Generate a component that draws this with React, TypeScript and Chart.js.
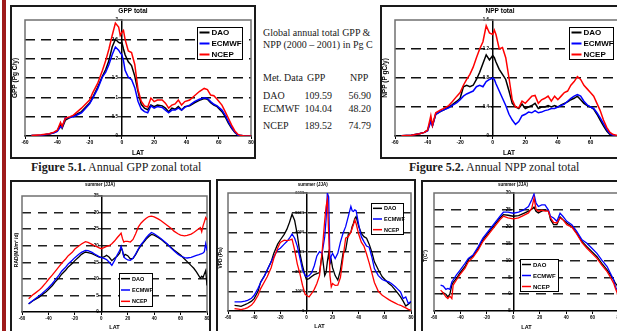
import React, { useEffect, useRef } from "react";
import { Chart, registerables } from "chart.js";
Chart.register(...registerables);

const FONT = "'Liberation Sans', Arial, Helvetica, sans-serif";
const SERIF = "'Liberation Serif', 'Times New Roman', Times, serif";

const seriesNames = ["DAO", "ECMWF", "NCEP"];
const seriesColors = ["#000000", "#0000ff", "#ff0000"];

// ---------- GPP total ----------
const gppLat = [-56,-50,-45,-42,-40,-38,-37,-35,-32,-30,-25,-20,-18,-15,-12,-10,-8,-6,-4,-2,-1,0,1,2,4,6,8,10,12,14,16,18,20,22,25,27,29,31,33,35,37,39,42,45,48,51,53,55,57,59,62,64,66,68,70,72,74,76,78,80];
const gppDao = [0.01,0.02,0.05,0.09,0.13,0.31,0.2,0.41,0.48,0.52,0.63,0.85,1.0,1.26,1.55,1.72,1.95,2.3,2.5,2.42,2.4,2.42,2.25,2.1,1.92,1.82,1.55,1.15,0.82,0.72,0.68,0.8,0.76,0.8,0.78,0.72,0.63,0.72,0.69,0.76,0.67,0.76,0.78,0.86,0.92,0.97,0.95,0.86,0.8,0.76,0.63,0.5,0.33,0.2,0.09,0.02,0.01,0,0,0];
const gppEcmwf = [0.01,0.02,0.05,0.08,0.12,0.24,0.22,0.47,0.48,0.5,0.6,0.83,0.98,1.22,1.53,1.65,1.85,2.1,2.3,2.22,2.15,2.1,1.95,1.7,1.52,1.46,1.25,0.9,0.7,0.63,0.6,0.78,0.72,0.76,0.74,0.67,0.6,0.67,0.67,0.72,0.67,0.74,0.8,0.89,0.95,0.99,0.97,0.89,0.82,0.78,0.67,0.54,0.37,0.22,0.1,0.02,0.01,0,0,0];
const gppNcep = [0.01,0.03,0.06,0.1,0.15,0.35,0.25,0.46,0.5,0.54,0.72,0.93,1.12,1.36,1.7,1.95,2.25,2.6,2.92,2.82,2.6,2.68,2.73,2.5,2.2,2.16,1.85,1.2,0.9,0.78,0.75,0.98,0.89,0.93,0.93,0.85,0.72,0.8,0.83,0.93,0.8,0.89,0.93,1.04,1.15,1.23,1.2,1.06,1.04,0.95,0.8,0.63,0.46,0.28,0.13,0.04,0.01,0,0,0];

// ---------- NPP total ----------
const nppLat = [-56,-50,-45,-42,-40,-38,-37,-35,-32,-30,-27,-25,-22,-20,-18,-16,-14,-12,-10,-8,-6,-4,-2,0,1,2,4,6,8,10,12,14,16,18,20,22,24,26,28,30,32,34,36,38,40,42,44,46,48,50,52,54,56,58,60,62,64,66,68,70,72,74,76,78,80];
const nppDao = [0.005,0.01,0.03,0.05,0.08,0.22,0.14,0.3,0.34,0.36,0.4,0.43,0.48,0.52,0.68,0.7,0.68,0.7,0.78,0.88,1.0,1.12,1.05,1.11,1.08,1.02,0.92,0.85,0.78,0.62,0.45,0.4,0.38,0.44,0.38,0.4,0.42,0.45,0.38,0.4,0.4,0.42,0.4,0.42,0.4,0.43,0.45,0.47,0.5,0.52,0.55,0.5,0.45,0.42,0.4,0.37,0.3,0.22,0.14,0.07,0.02,0.01,0,0,0];
const nppEcmwf = [0.005,0.01,0.03,0.05,0.07,0.2,0.14,0.3,0.34,0.36,0.39,0.42,0.46,0.5,0.55,0.58,0.6,0.62,0.68,0.7,0.68,0.75,0.78,0.8,0.78,0.72,0.62,0.52,0.42,0.3,0.22,0.16,0.2,0.28,0.3,0.33,0.32,0.35,0.32,0.33,0.35,0.36,0.38,0.38,0.4,0.42,0.44,0.48,0.52,0.55,0.57,0.55,0.48,0.43,0.4,0.38,0.32,0.25,0.17,0.09,0.03,0.01,0,0,0];
const nppNcep = [0.005,0.01,0.03,0.05,0.08,0.28,0.15,0.32,0.36,0.38,0.42,0.47,0.55,0.6,0.7,0.78,0.85,0.95,1.08,1.2,1.3,1.52,1.42,1.4,1.46,1.4,1.2,1.22,1.08,0.8,0.5,0.4,0.39,0.48,0.45,0.5,0.55,0.56,0.45,0.5,0.52,0.55,0.48,0.55,0.5,0.55,0.6,0.62,0.7,0.75,0.82,0.78,0.7,0.65,0.6,0.55,0.45,0.35,0.22,0.12,0.05,0.02,0.01,0,0];

// ---------- RAD summer ----------
const radLat = [-55,-52,-50,-47,-45,-42,-40,-37,-35,-32,-30,-27,-25,-22,-20,-17,-15,-12,-10,-7,-5,-2,0,2,4,6,8,10,12,14,15,16,17,18,20,22,24,26,28,30,32,34,36,38,40,43,45,48,50,53,55,58,60,63,65,68,70,72,74,75,76,77,78,79,80];
const radDao = [2.4,3.3,3.8,4.5,5.1,6.0,6.8,8.0,9.0,10.3,11.4,12.6,13.6,14.6,15.5,16.6,17.4,18.1,17.9,17.6,17.2,16.6,16.4,16.6,17.1,16.5,15.5,16.2,16.8,17.8,19.5,18.5,16.8,17.4,17.0,16.0,16.2,17.3,18.8,20.0,21.0,22.0,22.8,23.4,23.2,22.5,22.0,21.0,20.4,19.4,18.7,17.8,17.2,16.0,15.2,14.0,13.2,12.1,10.8,10.2,10.8,10.4,11.5,12.5,8.0];
const radEcmwf = [2.5,3.4,4.0,4.9,5.5,6.6,7.3,8.6,9.6,11.1,12.3,13.5,14.5,15.6,16.4,17.4,18.0,18.6,18.5,18.0,17.5,16.8,16.4,16.2,15.8,15.0,14.1,15.5,17.2,18.6,19.8,18.5,16.8,16.2,15.7,15.6,16.2,17.5,19.0,20.3,21.3,22.4,23.3,24.0,23.6,22.8,22.2,21.2,20.5,19.2,18.5,17.4,16.9,16.4,16.3,16.5,16.8,17.1,17.3,17.5,17.6,17.8,18.2,20.6,18.5];
const radNcep = [4.0,5.1,5.7,6.6,7.4,8.8,9.8,11.2,12.2,13.7,14.7,16.0,17.0,18.0,19.0,19.9,20.5,21.2,21.0,20.4,20.0,19.4,19.1,19.4,19.8,20.0,20.6,21.4,22.4,23.3,23.8,22.2,21.1,21.3,21.3,21.1,21.9,23.6,25.6,26.8,27.6,28.3,28.8,28.9,28.7,28.1,27.6,26.7,26.1,25.2,24.4,23.6,23.2,23.0,23.1,23.5,24.0,24.6,25.2,25.5,24.2,26.0,27.2,28.5,27.8];

// ---------- VPD summer ----------
const vpdLat = [-55,-52,-50,-47,-45,-42,-40,-37,-35,-32,-30,-27,-25,-22,-20,-17,-15,-13,-11,-9,-7,-5,-3,-1,0,2,4,6,8,10,12,14,15,16,17,18,19,20,22,24,26,28,30,32,34,35,36,37,38,40,42,44,46,48,50,52,55,58,60,63,65,68,70,72,74,76,78,80];
const vpdDao = [290,260,240,320,380,500,630,1000,1480,1800,2080,2500,2930,3400,3610,3900,4150,4500,4920,4600,3900,2930,2300,1800,1600,1650,1750,1850,1900,1950,2900,1800,1950,2500,2930,2400,2590,2200,1800,1570,2080,2930,3100,3900,4000,4300,4460,4700,4800,4300,3950,3780,3700,3400,3000,2500,2100,1740,1600,1400,1300,1060,900,715,500,250,350,460];
const vpdEcmwf = [460,460,460,500,545,650,800,1150,1450,1800,2080,2500,2760,3100,3190,3400,3530,3700,3920,3700,3300,2700,2100,1800,1740,1800,1950,2300,2800,3015,2930,3780,4630,6000,5800,2420,2800,2930,2670,2930,3500,3950,4290,4800,5320,5100,5060,5140,5100,4380,3780,3530,3300,3240,2760,2160,1800,1600,1550,1480,1400,1230,1100,970,630,715,375,500];
const vpdNcep = [120,90,70,120,170,300,460,800,1140,1500,1740,2200,2670,3200,3480,3600,3580,3600,3650,3100,2400,1900,1310,850,800,715,890,1100,1400,1800,3000,4600,5300,5660,4000,1800,1230,1400,1300,1310,1700,2700,3700,3780,4000,4210,4400,4630,4450,3900,3500,3300,2900,2450,1950,1450,1000,800,715,580,500,400,330,290,220,160,80,40];

// ---------- T summer ----------
const tLat = [-55,-53,-51,-49.5,-48,-46.5,-45.5,-43,-40.5,-36.5,-34,-30.5,-26.5,-23,-18,-14,-10,-7.5,-4,0,4,7.5,11.5,14,15.7,17.2,19,21.5,24,26.5,28.2,30.5,33,35.4,37.5,40.5,44.3,48,52,55.7,59.5,63.3,67,71,73.5,76,77.3,78.5,79.5,80];
const tDao = [0,0.4,0,-0.8,0,2.7,3.5,4.7,6.2,8.2,10.3,11.3,13.6,16.1,18.6,20.6,22.6,23.6,23.4,23.1,23.3,23.9,24.6,25.2,25.8,24.6,24.1,24.6,24.9,24.9,22.1,20.6,20.6,22.9,22.1,21.1,20.1,18.1,15.6,14.1,12.6,11.1,9.1,7.2,5.7,4.2,3.2,2.7,1.2,0.8];
const tEcmwf = [2.7,2.4,1.4,1.7,1.4,3.6,4.2,5.7,7.0,9.1,10.6,11.6,14.1,16.6,19.1,21.1,23.1,24.3,24.3,24.0,24.3,24.9,26.0,28.0,29.7,27.0,26.0,26.5,26.5,25.0,23.1,22.6,21.6,24.0,23.1,21.6,20.6,18.6,16.1,15.1,13.6,12.1,10.1,8.2,6.2,4.2,2.2,1.2,1.0,1.0];
const tNcep = [1.2,0.4,-0.8,-1.3,-0.6,-1.3,2.7,4.2,5.7,7.7,9.6,10.9,13.1,15.6,18.1,20.1,22.1,23.1,22.6,22.3,22.6,23.3,24.1,25.5,28.5,25.2,24.6,24.9,24.6,24.6,22.6,21.3,21.1,22.6,22.1,20.6,19.9,17.9,15.3,13.6,12.1,10.6,8.6,6.7,5.0,3.2,1.7,0.5,-1.3,-2.5];

// ---------- table ----------
const tableHeader = ["Met. Data", "GPP", "NPP"];
const tableRows = ["DAO", "ECMWF", "NCEP"];
const tableGpp = ["109.59", "104.04", "189.52"];
const tableNpp = ["56.90", "48.20", "74.79"];

const decor = {
  id: "decor",
  beforeDatasetsDraw(chart: any, _a: any, o: any) {
    const { left, top, right, bottom } = chart.chartArea;
    const ctx = chart.ctx;
    ctx.save();
    ctx.strokeStyle = o.frameColor;
    ctx.lineWidth = o.frameWidth;
    ctx.beginPath();
    ctx.moveTo(left, bottom);
    ctx.lineTo(left, top);
    ctx.lineTo(right, top);
    ctx.lineTo(right, bottom);
    ctx.stroke();
    ctx.restore();
  },
  afterDraw(chart: any, _a: any, o: any) {
    const ctx = chart.ctx;
    ctx.save();
    ctx.fillStyle = "#000";
    ctx.textAlign = "center";
    ctx.textBaseline = "middle";
    ctx.font = `bold ${o.titleSize}px ${FONT}`;
    ctx.fillText(o.titleText, o.titleX, o.titleY);
    ctx.save();
    ctx.translate(o.yTitleX, o.yTitleY);
    ctx.rotate(-Math.PI / 2);
    ctx.font = `bold ${o.yTitleSize}px ${FONT}`;
    ctx.fillText(o.yTitleText, 0, 0);
    ctx.restore();
    const lx = o.legX, ly = o.legY, lw = o.legW, lh = o.legH;
    ctx.fillStyle = "#fff";
    ctx.fillRect(lx, ly, lw, lh);
    ctx.strokeStyle = "#000";
    ctx.lineWidth = 1;
    ctx.strokeRect(Math.round(lx) + 0.5, Math.round(ly) + 0.5, Math.round(lw) - 1, Math.round(lh) - 1);
    ctx.textAlign = "left";
    ctx.font = `${o.legBold ? "bold " : ""}${o.legSize}px ${FONT}`;
    chart.data.datasets.forEach((ds: any, i: number) => {
      const cy = ly + (lh * (i + 0.5)) / 3;
      ctx.strokeStyle = ds.borderColor;
      ctx.lineWidth = o.legLineWidth;
      ctx.beginPath();
      ctx.moveTo(lx + o.legLineX, cy);
      ctx.lineTo(lx + o.legLineX + o.legLineLen, cy);
      ctx.stroke();
      ctx.fillStyle = "#000";
      ctx.fillText(ds.label, lx + o.legLineX + o.legLineLen + 2, cy + 0.5);
    });
    ctx.restore();
  },
};

type Spec = {
  left: number; top: number; width: number; height: number;
  padL: number; padT: number; padR: number; padB: number;
  lat: number[]; series: number[][];
  yMin: number; yMax: number; yStep: number;
  tickSize: number; yTickSize: number; latSize: number; latPad: number;
  dash: number[]; gridColor: string; gridWidth: number; lineWidth: number;
  frameColor: string;
  yLabelPad: string;
  decor: any;
};

function LatChart({ spec }: { spec: Spec }) {
  const ref = useRef<HTMLCanvasElement | null>(null);
  const cw = spec.width - 4;
  const ch = spec.height - 4;
  useEffect(() => {
    const canvas = ref.current!;
    const s = spec;
    const chart = new Chart(canvas, {
      type: "line",
      data: {
        datasets: s.series.map((vals, i) => ({
          label: seriesNames[i],
          data: s.lat.map((x, j) => ({ x, y: vals[j] })),
          borderColor: seriesColors[i],
          backgroundColor: seriesColors[i],
          borderWidth: s.lineWidth,
          pointRadius: 0,
          tension: 0,
          order: 2 - i,
        })),
      },
      options: {
        responsive: false,
        animation: false,
        events: [],
        devicePixelRatio: 1,
        layout: { padding: { left: s.padL, top: s.padT, right: s.padR, bottom: 0 } },
        plugins: {
          legend: { display: false },
          tooltip: { enabled: false },
          title: { display: false },
          decor: { ...s.decor, frameColor: s.frameColor, frameWidth: 1.5 },
        } as any,
        scales: {
          x: {
            type: "linear",
            position: "bottom",
            min: -60,
            max: 80,
            ticks: {
              stepSize: 20,
              autoSkip: false,
              maxRotation: 0,
              padding: 1,
              color: "#000",
              font: { family: FONT, size: s.tickSize, weight: "bold" },
            },
            grid: { drawOnChartArea: false, drawTicks: true, tickLength: 3, color: "#000", lineWidth: 1 },
            border: { color: "#000", width: 1.5 },
            title: {
              display: true,
              text: "LAT",
              color: "#000",
              font: { family: FONT, size: s.latSize, weight: "bold" },
              padding: { top: 0, bottom: s.latPad },
            },
            afterFit: (sc: any) => {
              sc.height = s.padB;
              sc.paddingLeft = 0;
              sc.paddingRight = 0;
            },
          },
          y: {
            type: "linear",
            position: { x: 0 } as any,
            min: s.yMin,
            max: s.yMax,
            ticks: {
              stepSize: s.yStep,
              autoSkip: false,
              color: "#000",
              font: { family: FONT, size: s.yTickSize, weight: "bold" },
              callback: (v: any) => String(v) + s.yLabelPad,
            },
            grid: {
              color: (c: any) =>
                c.tick && (c.tick.value === s.yMin || c.tick.value === s.yMax) ? "rgba(0,0,0,0)" : s.gridColor,
              lineWidth: s.gridWidth,
              tickLength: 3,
              tickColor: "#000",
              tickWidth: 1,
            },
            border: { color: "#000", width: 1.5, dash: s.dash },
            afterFit: (sc: any) => {
              sc.paddingTop = 0;
              sc.paddingBottom = 0;
            },
          },
        } as any,
      },
      plugins: [decor as any],
    });
    return () => chart.destroy();
  }, []);
  return (
    <div
      style={{
        position: "absolute",
        left: spec.left,
        top: spec.top,
        width: spec.width,
        height: spec.height,
        border: "2px solid #1a1a1a",
        boxSizing: "border-box",
        background: "#fff",
        overflow: "hidden",
      }}
    >
      <canvas ref={ref} width={cw} height={ch} style={{ display: "block", width: cw, height: ch }} />
    </div>
  );
}

const legendBig = { legSize: 8, legBold: true, legLineX: 2.5, legLineLen: 10, legLineWidth: 2 };
const legendSmall = { legSize: 5.5, legBold: true, legLineX: 2, legLineLen: 9, legLineWidth: 1.5 };

const specs: Spec[] = [
  {
    left: 10, top: 5, width: 246, height: 154,
    padL: 13, padT: 13, padR: 3, padB: 21,
    lat: gppLat, series: [gppDao, gppEcmwf, gppNcep],
    yMin: 0, yMax: 3, yStep: 0.5,
    tickSize: 5, yTickSize: 4.5, latSize: 6.5, latPad: 0,
    dash: [10, 6], gridColor: "#111", gridWidth: 1.5, lineWidth: 1.5,
    frameColor: "#707070", yLabelPad: "   ",
    decor: {
      titleText: "GPP total", titleX: 121, titleY: 4.5, titleSize: 6.5,
      yTitleText: "GPP (Pg C/y)", yTitleX: 3.7, yTitleY: 71, yTitleSize: 6.5,
      legX: 185, legY: 20, legW: 46, legH: 33, ...legendBig,
    },
  },
  {
    left: 380, top: 5, width: 250, height: 154,
    padL: 13, padT: 13, padR: 5, padB: 21,
    lat: nppLat, series: [nppDao, nppEcmwf, nppNcep],
    yMin: 0, yMax: 1.6, yStep: 0.4,
    tickSize: 5, yTickSize: 4.5, latSize: 6.5, latPad: 0,
    dash: [10, 6], gridColor: "#111", gridWidth: 1.5, lineWidth: 1.5,
    frameColor: "#707070", yLabelPad: "   ",
    decor: {
      titleText: "NPP total", titleX: 118, titleY: 4.5, titleSize: 6.5,
      yTitleText: "NPP (P gC/y)", yTitleX: 3.7, yTitleY: 71, yTitleSize: 6.5,
      legX: 187, legY: 20, legW: 45, legH: 33, ...legendBig,
    },
  },
  {
    left: 10, top: 180, width: 201, height: 160,
    padL: 10, padT: 14, padR: 2, padB: 26,
    lat: radLat, series: [radDao, radEcmwf, radNcep],
    yMin: 0, yMax: 35, yStep: 5,
    tickSize: 4.5, yTickSize: 4.5, latSize: 5.5, latPad: 7,
    dash: [9, 7], gridColor: "#222", gridWidth: 1.5, lineWidth: 1.3,
    frameColor: "#707070", yLabelPad: "  ",
    decor: {
      titleText: "summer (JJA)", titleX: 88, titleY: 3, titleSize: 4.5,
      yTitleText: "RAD(MJ/m² /d)", yTitleX: 4.7, yTitleY: 68, yTitleSize: 5,
      legX: 107, legY: 91, legW: 34, legH: 34, ...legendSmall,
    },
  },
  {
    left: 216, top: 179, width: 200, height: 160,
    padL: 10, padT: 12, padR: 3, padB: 26,
    lat: vpdLat, series: [vpdDao, vpdEcmwf, vpdNcep],
    yMin: 0, yMax: 6000, yStep: 1000,
    tickSize: 4.5, yTickSize: 4, latSize: 5.5, latPad: 7,
    dash: [9, 7], gridColor: "#222", gridWidth: 1.5, lineWidth: 1.3,
    frameColor: "#707070", yLabelPad: "  ",
    decor: {
      titleText: "summer (JJA)", titleX: 94.7, titleY: 4, titleSize: 4.5,
      yTitleText: "VPD (Pa)", yTitleX: 2.5, yTitleY: 77, yTitleSize: 5,
      legX: 153, legY: 22, legW: 33, legH: 32, ...legendSmall,
    },
  },
  {
    left: 421, top: 180, width: 210, height: 160,
    padL: 11, padT: 11, padR: 10, padB: 27,
    lat: tLat, series: [tDao, tEcmwf, tNcep],
    yMin: -5, yMax: 30, yStep: 5,
    tickSize: 4.5, yTickSize: 4.5, latSize: 5.5, latPad: 7,
    dash: [10, 7], gridColor: "#222", gridWidth: 1.5, lineWidth: 1.3,
    frameColor: "#707070", yLabelPad: "  ",
    decor: {
      titleText: "summer (JJA)", titleX: 90, titleY: 3, titleSize: 4.5,
      yTitleText: "T(C°)", yTitleX: 3, yTitleY: 74, yTitleSize: 5,
      legX: 97, legY: 77, legW: 39, legH: 33, ...{ ...legendSmall, legSize: 6 },
    },
  },
];

function Txt({ x, y, size, bold, children, align }: any) {
  return (
    <div
      style={{
        position: "absolute",
        left: align === "right" ? undefined : x,
        right: align === "right" ? 617 - x : undefined,
        top: y,
        fontFamily: SERIF,
        fontSize: size,
        lineHeight: `${size}px`,
        fontWeight: bold ? "bold" : "normal",
        color: "#1a1a1a",
        whiteSpace: "nowrap",
      }}
    >
      {children}
    </div>
  );
}

export default function App() {
  const rowTops = [90.6, 104, 121];
  return (
    <div
      style={{
        position: "fixed",
        left: 0,
        top: 0,
        width: 617,
        height: 331,
        overflow: "hidden",
        background: "#fff",
      }}
    >
      <div style={{ position: "absolute", left: 2, top: 0, width: 4, height: 331, background: "#9e1a1a" }} />
      {specs.map((s, i) => (
        <LatChart key={i} spec={s} />
      ))}
      <Txt x={263} y={28.3} size={10}>Global annual total GPP &amp;</Txt>
      <Txt x={263} y={39.6} size={10}>NPP (2000 – 2001) in Pg C</Txt>
      <Txt x={263} y={73.3} size={10}>{tableHeader[0]}</Txt>
      <Txt x={307} y={73.3} size={10}>{tableHeader[1]}</Txt>
      <Txt x={350} y={73.3} size={10}>{tableHeader[2]}</Txt>
      {tableRows.map((r, i) => (
        <React.Fragment key={r}>
          <Txt x={263} y={rowTops[i]} size={10}>{r}</Txt>
          <Txt x={332} y={rowTops[i]} size={10} align="right">{tableGpp[i]}</Txt>
          <Txt x={371} y={rowTops[i]} size={10} align="right">{tableNpp[i]}</Txt>
        </React.Fragment>
      ))}
      <Txt x={31} y={161} size={12}>
        <b>Figure 5.1.</b> Annual GPP zonal total
      </Txt>
      <Txt x={409} y={161} size={12}>
        <b>Figure 5.2.</b> Annual NPP zonal total
      </Txt>
    </div>
  );
}
